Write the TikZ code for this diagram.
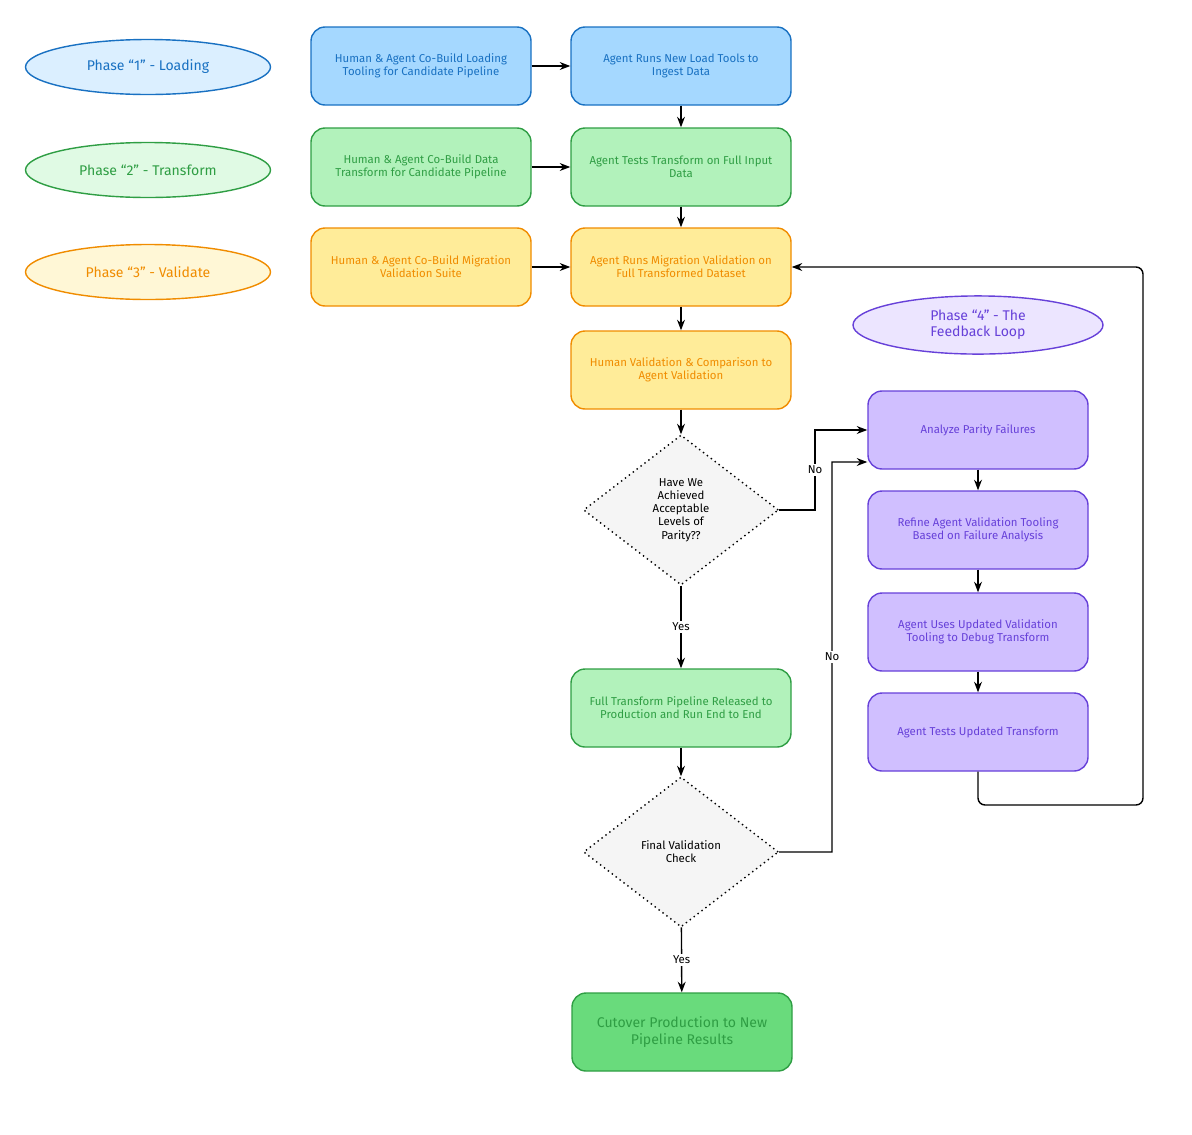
\documentclass[tikz,border=0pt]{standalone}
\usepackage{fontspec}
\setmainfont{Fira Sans}
\usetikzlibrary{shapes.geometric,arrows.meta,positioning}
\definecolor{bluefill}{HTML}{A5D8FF}\definecolor{bluedraw}{HTML}{1971C2}
\definecolor{greenfill}{HTML}{B2F2BB}\definecolor{greendraw}{HTML}{2F9E44}
\definecolor{orangefill}{HTML}{FFEC99}\definecolor{orangedraw}{HTML}{F08C00}
\definecolor{purplefill}{HTML}{D0BFFF}\definecolor{purpledraw}{HTML}{6741D9}
\definecolor{darkgreenfill}{HTML}{69DB7C}
\tikzset{
  stage/.style={rectangle, rounded corners=8pt, thick, minimum width=4.4cm,
    minimum height=1.56cm, align=center, font=\fontsize{6.5}{7.5}\selectfont},
  blue box/.style={stage, draw=bluedraw, fill=bluefill, text=bluedraw},
  green box/.style={stage, draw=greendraw, fill=greenfill, text=greendraw},
  orange box/.style={stage, draw=orangedraw, fill=orangefill, text=orangedraw},
  purple box/.style={stage, draw=purpledraw, fill=purplefill, text=purpledraw},
  phase/.style={ellipse, thick, minimum width=4.9cm, minimum height=1.1cm,
    align=center, font=\fontsize{8}{9}\selectfont},
  check/.style={diamond, draw, dotted, thick, fill=gray!8, minimum width=3.9cm,
    minimum height=3cm, aspect=1.3, align=center,
    font=\fontsize{6.5}{7.5}\selectfont},
  line/.style={draw, thick, -{Stealth[length=6pt]}},
  lbl/.style={fill=white, inner sep=1pt, font=\fontsize{6.5}{7.5}\selectfont}
}
\begin{document}
\begin{tikzpicture}
  \useasboundingbox (0,0) rectangle (23.84,-22.68);
  % phase labels
  \node [phase, draw=bluedraw, fill=bluefill!40, text=bluedraw] (ph1) at (2.96,-1.34) {Phase ``1'' - Loading};
  \node [phase, draw=greendraw, fill=greenfill!40, text=greendraw] (ph2) at (2.96,-3.4) {Phase ``2'' - Transform};
  \node [phase, draw=orangedraw, fill=orangefill!40, text=orangedraw] (ph3) at (2.96,-5.44) {Phase ``3'' - Validate};
  \node [phase, draw=purpledraw, fill=purplefill!40, text=purpledraw, minimum width=5cm] (ph4) at (19.56,-6.5) {Phase ``4'' - The\\Feedback Loop};

  % main column
  \node [blue box] (build_load) at (8.42,-1.32) {Human \& Agent Co-Build Loading\\Tooling for Candidate Pipeline};
  \node [blue box] (run_load) at (13.62,-1.32) {Agent Runs New Load Tools to\\Ingest Data};
  \node [green box] (build_tf) at (8.42,-3.34) {Human \& Agent Co-Build Data\\Transform for Candidate Pipeline};
  \node [green box] (test_tf) at (13.62,-3.34) {Agent Tests Transform on Full Input\\Data};
  \node [orange box] (build_val) at (8.42,-5.34) {Human \& Agent Co-Build Migration\\Validation Suite};
  \node [orange box] (run_val) at (13.62,-5.34) {Agent Runs Migration Validation on\\Full Transformed Dataset};
  \node [orange box] (human_val) at (13.62,-7.4) {Human Validation \& Comparison to\\Agent Validation};
  \node [check] (parity) at (13.62,-10.2) {Have We\\Achieved\\Acceptable\\Levels of\\Parity??};
  \node [green box] (release) at (13.62,-14.16) {Full Transform Pipeline Released to\\Production and Run End to End};
  \node [check] (final) at (13.62,-17.04) {Final Validation\\Check};
  \node [green box, fill=darkgreenfill, font=\fontsize{8}{9.5}\selectfont] (cutover) at (13.64,-20.64) {Cutover Production to New\\Pipeline Results};

  % feedback loop
  \node [purple box] (analyze) at (19.56,-8.6) {Analyze Parity Failures};
  \node [purple box] (refine) at (19.56,-10.6) {Refine Agent Validation Tooling\\Based on Failure Analysis};
  \node [purple box] (debug) at (19.56,-12.64) {Agent Uses Updated Validation\\Tooling to Debug Transform};
  \node [purple box] (retest) at (19.56,-14.64) {Agent Tests Updated Transform};

  \path [line] (build_load) -- (run_load);
  \path [line] (run_load) -- (test_tf);
  \path [line] (build_tf) -- (test_tf);
  \path [line] (test_tf) -- (run_val);
  \path [line] (build_val) -- (run_val);
  \path [line] (run_val) -- (human_val);
  \path [line] (human_val) -- (parity);
  \path [line] (parity) -- node [lbl] {Yes} (release);
  \path [line] (release) -- (final);
  \path [line] (final) -- node [lbl] {Yes} (cutover);
  \path [line] (parity.east) -| (16.3,-8.6) node [lbl, pos=0.75] {No} -- (analyze.west);
  \path [line] (final.east) -| (16.64,-9.24) node [lbl, pos=0.75] {No} -- ([yshift=-0.64cm]analyze.west);
  \path [line] (analyze) -- (refine);
  \path [line] (refine) -- (debug);
  \path [line] (debug) -- (retest);
  \path [line, rounded corners=4pt] (retest.south) |- (22.86,-16.1) |- (run_val.east);
\end{tikzpicture}
\end{document}
